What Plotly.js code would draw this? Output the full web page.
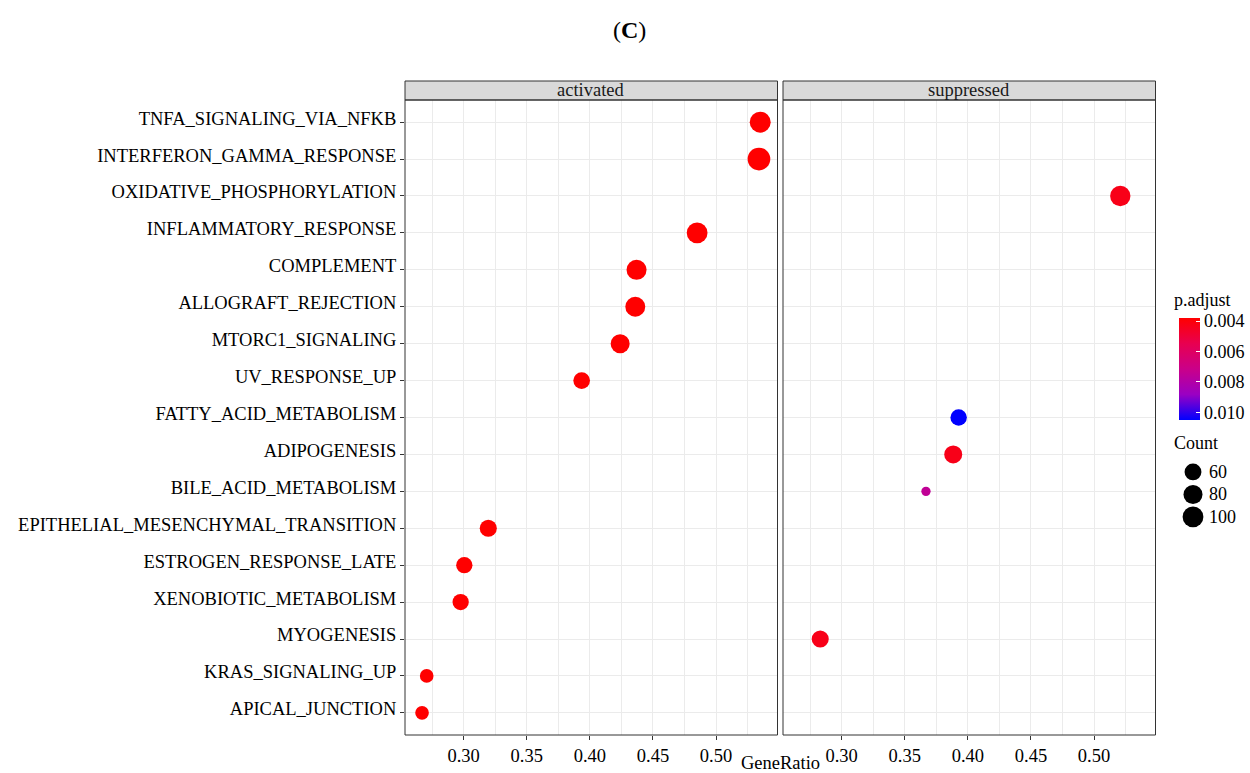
<!DOCTYPE html>
<html><head><meta charset="utf-8">
<script src="https://cdn.plot.ly/plotly-3.0.1.min.js"></script>
<style>html,body{margin:0;padding:0;background:#fff;}</style>
</head><body><div id="chart" style="width:1250px;height:773px;"></div>
<script>
// ---- data ----
const categoryOrder = [
  "TNFA_SIGNALING_VIA_NFKB","INTERFERON_GAMMA_RESPONSE","OXIDATIVE_PHOSPHORYLATION",
  "INFLAMMATORY_RESPONSE","COMPLEMENT","ALLOGRAFT_REJECTION","MTORC1_SIGNALING",
  "UV_RESPONSE_UP","FATTY_ACID_METABOLISM","ADIPOGENESIS","BILE_ACID_METABOLISM",
  "EPITHELIAL_MESENCHYMAL_TRANSITION","ESTROGEN_RESPONSE_LATE","XENOBIOTIC_METABOLISM",
  "MYOGENESIS","KRAS_SIGNALING_UP","APICAL_JUNCTION"
];
const panelNames = ["activated", "suppressed"];

const activatedTerms = [
  "TNFA_SIGNALING_VIA_NFKB","INTERFERON_GAMMA_RESPONSE","INFLAMMATORY_RESPONSE",
  "COMPLEMENT","ALLOGRAFT_REJECTION","MTORC1_SIGNALING","UV_RESPONSE_UP",
  "EPITHELIAL_MESENCHYMAL_TRANSITION","ESTROGEN_RESPONSE_LATE","XENOBIOTIC_METABOLISM",
  "KRAS_SIGNALING_UP","APICAL_JUNCTION"
];
const activatedRatio = [0.535, 0.534, 0.485, 0.437, 0.436, 0.424, 0.3935, 0.3195, 0.3005, 0.2976, 0.2707, 0.267];
const activatedCount = [102, 125, 100, 91, 90, 80, 59, 62, 56, 56, 40, 40];
const activatedPadj  = [0.0038, 0.0038, 0.0038, 0.0038, 0.0038, 0.0038, 0.0038, 0.0038, 0.0038, 0.0038, 0.0038, 0.0038];

const suppressedTerms = [
  "OXIDATIVE_PHOSPHORYLATION","FATTY_ACID_METABOLISM","ADIPOGENESIS",
  "BILE_ACID_METABOLISM","MYOGENESIS"
];
const suppressedRatio = [0.5208, 0.3927, 0.3884, 0.3668, 0.283];
const suppressedCount = [94, 57, 70, 30, 62];
const suppressedPadj  = [0.0043, 0.0105, 0.0043, 0.0075, 0.0043];

const legendCounts = [60, 80, 100];
const padjTicks = [0.004, 0.006, 0.008, 0.010];
const padjTickText = ["0.004", "0.006", "0.008", "0.010"];

// ---- scales ----
const W = 1250, H = 773;
const FONT = "Liberation Serif, Times New Roman, serif";
const allCounts = activatedCount.concat(suppressedCount);
const cMin = Math.min(...allCounts), cMax = Math.max(...allCounts);
const dMin = 9.3, dMax = 22.7;
const sizeOf = c => dMin + (dMax - dMin) * Math.sqrt(Math.max(0, (c - cMin) / (cMax - cMin)));
const allPadj = activatedPadj.concat(suppressedPadj);
const pMin = Math.min(...allPadj), pMax = Math.max(...allPadj);
const colorscale = [[0, "#0000FF"], [0.25, "#9A00C3"], [0.5, "#CA0089"], [0.75, "#E80050"], [1, "#FF0000"]];

const px = v => v / W;           // x pixel -> paper
const py = v => 1 - v / H;       // y pixel -> paper

const xRange = [0.2535, 0.5487];
const yRange = [16.6, -0.6];

function markerFor(counts, padj, showScale) {
  const m = {
    size: counts.map(sizeOf),
    color: padj.map(p => -p),
    cmin: -pMax, cmax: -pMin,
    colorscale: colorscale,
    opacity: 1,
    line: {width: 0},
    showscale: showScale
  };
  if (showScale) {
    m.colorbar = {
      x: px(1179), xanchor: "left", y: py(369), yanchor: "middle",
      len: 102, lenmode: "pixels", thickness: 21, thicknessmode: "pixels",
      outlinewidth: 0, xpad: 0, ypad: 0, borderwidth: 0,
      tickmode: "array", tickvals: padjTicks.map(v => -v), ticktext: padjTickText,
      ticks: "inside", ticklen: 4, tickcolor: "#ffffff", tickwidth: 1,
      tickfont: {family: FONT, size: 18, color: "#000"},
      title: {text: ""}
    };
  }
  return m;
}

const traces = [
  {type: "scatter", mode: "markers", x: activatedRatio, y: activatedTerms,
   xaxis: "x", yaxis: "y", marker: markerFor(activatedCount, activatedPadj, true),
   showlegend: false, cliponaxis: false, hoverinfo: "x+y"},
  {type: "scatter", mode: "markers", x: suppressedRatio, y: suppressedTerms,
   xaxis: "x2", yaxis: "y2", marker: markerFor(suppressedCount, suppressedPadj, false),
   showlegend: false, cliponaxis: false, hoverinfo: "x+y"},
  {type: "scatter", mode: "markers", x: legendCounts.map(() => 0), y: legendCounts.map((c, i) => i),
   xaxis: "x3", yaxis: "y3",
   marker: {size: legendCounts.map(sizeOf), color: "#000000", opacity: 1, line: {width: 0}},
   showlegend: false, cliponaxis: false, hoverinfo: "skip"}
];

const yDomain = [py(735), py(100)];
const gridColor = "#EBEBEB";

function xAxis(domain, anchor) {
  return {
    domain: domain, anchor: anchor, range: xRange, type: "linear",
    tickmode: "linear", tick0: 0, dtick: 0.05, tickformat: ".2f",
    ticks: "outside", ticklen: 4, tickwidth: 1, tickcolor: "#333333",
    tickfont: {family: FONT, size: 18.5, color: "#000"},
    showgrid: true, gridcolor: gridColor, gridwidth: 1,
    minor: {tick0: 0, dtick: 0.025, showgrid: true, gridcolor: gridColor, gridwidth: 1, ticks: ""},
    zeroline: false, showline: false, automargin: false, fixedrange: true
  };
}
function yAxis(anchor, showLabels) {
  return {
    domain: yDomain, anchor: anchor, type: "category",
    categoryorder: "array", categoryarray: categoryOrder, range: yRange,
    ticks: showLabels ? "outside" : "", ticklen: 4, tickwidth: 1, tickcolor: "#333333",
    showticklabels: showLabels, ticklabelshift: 4,
    tickfont: {family: FONT, size: 18.5, color: "#000"},
    showgrid: true, gridcolor: gridColor, gridwidth: 1,
    zeroline: false, showline: false, automargin: false, fixedrange: true
  };
}

const stripH = 19 / 635;
const shapes = [];
[["x", "y"], ["x2", "y2"]].forEach(([xa, ya]) => {
  shapes.push({type: "rect", xref: xa + " domain", yref: ya + " domain", x0: 0, x1: 1, y0: 1, y1: 1 + stripH,
               fillcolor: "#D9D9D9", line: {color: "#333333", width: 1}, layer: "above"});
  shapes.push({type: "rect", xref: xa + " domain", yref: ya + " domain", x0: 0, x1: 1, y0: 0, y1: 1,
               fillcolor: "rgba(0,0,0,0)", line: {color: "#333333", width: 1}, layer: "above"});
});

const annotations = [
  {text: "(<b>C</b>)", xref: "paper", yref: "paper", x: px(629), y: py(30), xanchor: "center", yanchor: "middle",
   showarrow: false, font: {family: FONT, size: 24, color: "#000"}},
  {text: panelNames[0], xref: "x domain", yref: "y domain", x: 0.5, y: 1 + stripH / 2, xanchor: "center", yanchor: "middle",
   showarrow: false, font: {family: FONT, size: 18.5, color: "#1A1A1A"}},
  {text: panelNames[1], xref: "x2 domain", yref: "y2 domain", x: 0.5, y: 1 + stripH / 2, xanchor: "center", yanchor: "middle",
   showarrow: false, font: {family: FONT, size: 18.5, color: "#1A1A1A"}},
  {text: "GeneRatio", xref: "paper", yref: "paper", x: px(780), y: py(763), xanchor: "center", yanchor: "middle",
   showarrow: false, font: {family: FONT, size: 18.5, color: "#000"}},
  {text: "p.adjust", xref: "paper", yref: "paper", x: px(1172), y: py(300), xanchor: "left", yanchor: "middle",
   showarrow: false, font: {family: FONT, size: 18, color: "#000"}},
  {text: "Count", xref: "paper", yref: "paper", x: px(1172), y: py(443), xanchor: "left", yanchor: "middle",
   showarrow: false, font: {family: FONT, size: 18, color: "#000"}}
];
legendCounts.forEach((c, i) => {
  annotations.push({text: String(c), xref: "paper", yref: "y3", x: px(1207), y: i, xanchor: "left", yanchor: "middle",
    showarrow: false, font: {family: FONT, size: 18, color: "#000"}});
});

const layout = {
  width: W, height: H,
  margin: {l: 0, r: 0, t: 0, b: 0, pad: 0},
  paper_bgcolor: "#ffffff", plot_bgcolor: "#ffffff",
  showlegend: false,
  font: {family: FONT, size: 18, color: "#000"},
  xaxis: xAxis([px(405), px(777.5)], "y"),
  yaxis: yAxis("x", true),
  xaxis2: xAxis([px(783), px(1155.5)], "y2"),
  yaxis2: yAxis("x2", false),
  xaxis3: {domain: [px(1183), px(1203)], anchor: "y3", range: [-1, 1], visible: false, fixedrange: true},
  yaxis3: {domain: [py(530), py(460)], anchor: "x3", range: [2.58, -0.53], visible: false, fixedrange: true},
  shapes: shapes,
  annotations: annotations
};

Plotly.newPlot("chart", traces, layout, {displayModeBar: false, staticPlot: true});
</script>
</body></html>
